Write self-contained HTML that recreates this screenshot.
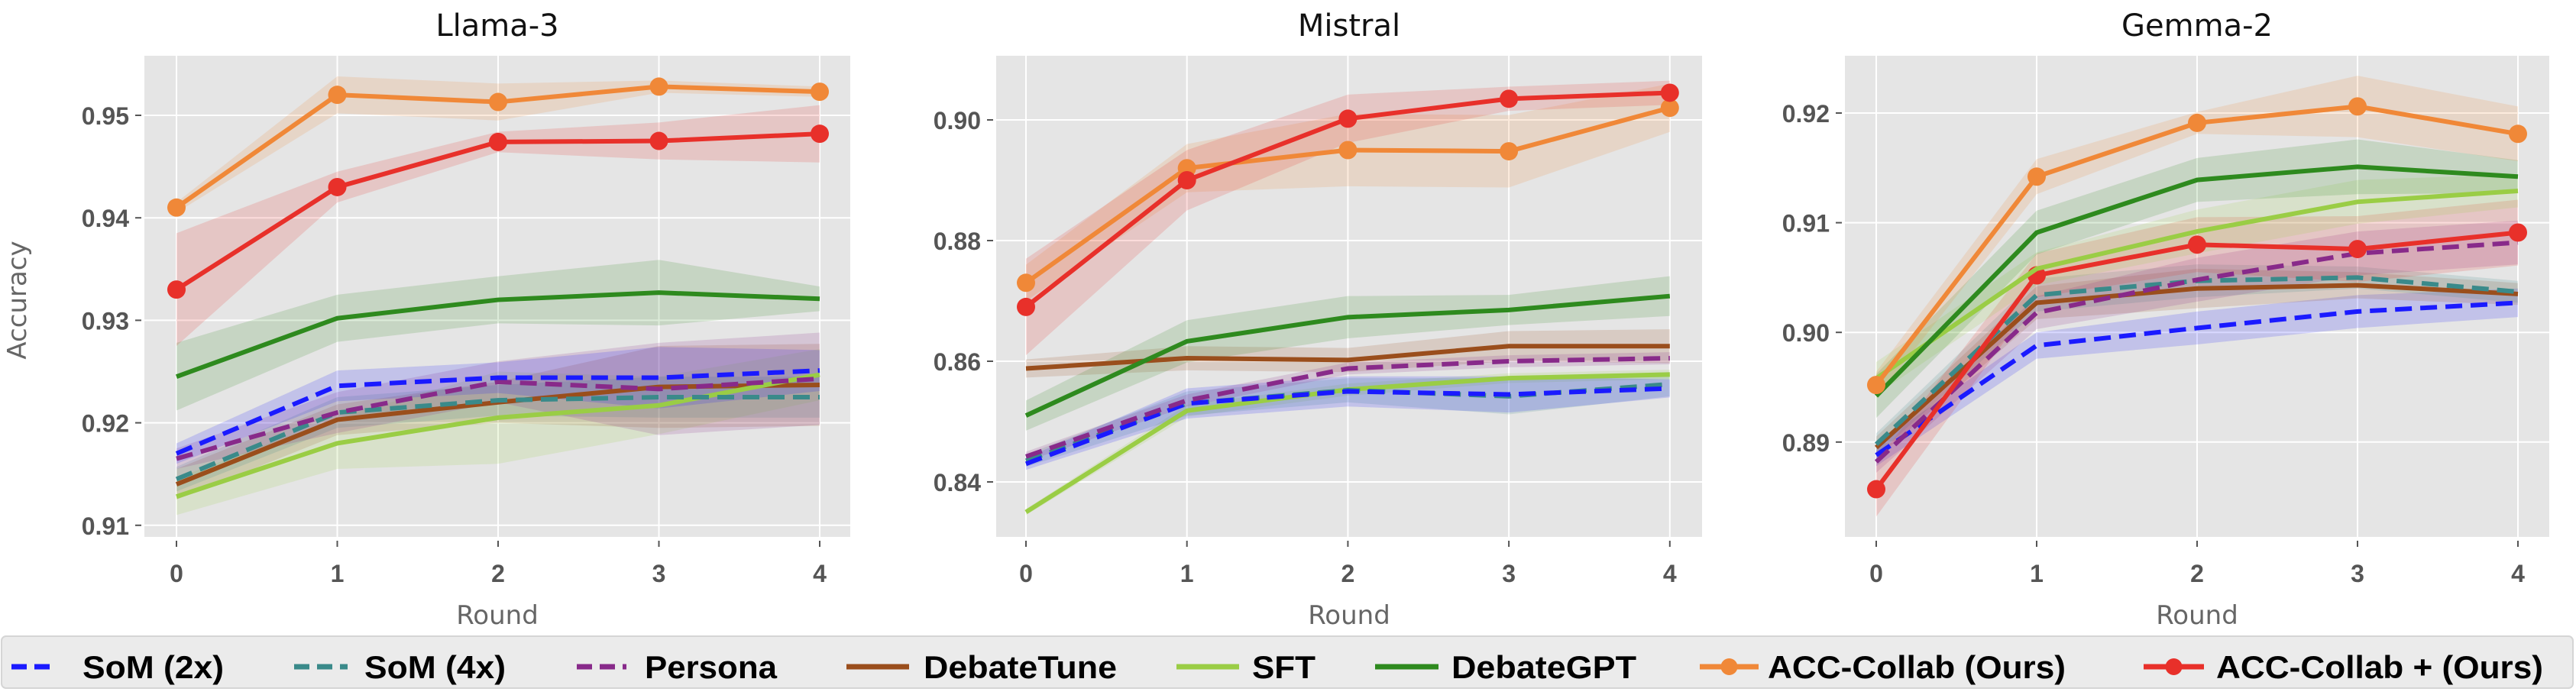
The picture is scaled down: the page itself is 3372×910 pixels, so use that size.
<!DOCTYPE html>
<html><head><meta charset="utf-8"><style>
body{margin:0;background:#fff;width:3372px;height:910px;overflow:hidden}
svg{display:block}
</style></head><body>
<svg id="s" width="3372" height="910" xmlns="http://www.w3.org/2000/svg" font-family="Liberation Sans, DejaVu Sans, sans-serif"></svg>
<script>
const S=document.getElementById('s');let h='';
const C={s2:'#1a1aff',s4:'#3a8a8a',pe:'#882a8a',dt:'#9a4e1c',sf:'#9acd45',dg:'#2e8a1e',ac:'#f08838',ap:'#e8302a'};
const panels=[
{t:'Llama-3',px0:189,px1:1113,x0:231,dx:210.5,yr:151,vr:0.95,k:13420,ticks:[0.91,0.92,0.93,0.94,0.95],
d:{dt:[[0.914,0.9203,0.922,0.9235,0.9237],[0.0015,0.0015,0.002,0.004,0.004]],
sf:[[0.9128,0.918,0.9205,0.9217,0.9247],[0.0018,0.0025,0.0045,0.0028,0.0025]],
s4:[[0.9145,0.921,0.9222,0.9225,0.9225],[0.0012,0.0015,0.0015,0.002,0.002]],
pe:[[0.9165,0.921,0.924,0.9233,0.9243],[0.001,0.002,0.002,0.0045,0.0045]],
s2:[[0.917,0.9236,0.9244,0.9244,0.9251],[0.001,0.0015,0.0015,0.003,0.002]],
dg:[[0.9245,0.9302,0.932,0.9327,0.9321],[0.0033,0.0023,0.0023,0.0032,0.0012]],
ap:[[0.933,0.943,0.9474,0.9475,0.9482],[0.0055,0.0015,0.001,0.0018,0.0028]],
ac:[[0.941,0.952,0.9513,0.9528,0.9523],[0.0005,0.0018,0.0018,0.0006,0.0005]]}},
{t:'Mistral',px0:1304,px1:2228,x0:1343,dx:210.7,yr:157,vr:0.90,k:7900,ticks:[0.84,0.86,0.88,0.90],
d:{dt:[[0.8588,0.8605,0.8602,0.8625,0.8625],[0.0015,0.002,0.002,0.0025,0.0028]],
sf:[[0.835,0.8518,0.8553,0.8572,0.8578],[0.0005,0.001,0.001,0.0008,0.0008]],
s4:[[0.8435,0.853,0.8552,0.8542,0.8562],[0.001,0.002,0.002,0.003,0.002]],
s2:[[0.843,0.853,0.855,0.8545,0.8555],[0.001,0.0025,0.0025,0.003,0.0015]],
pe:[[0.8442,0.8535,0.8588,0.860,0.8605],[0.0008,0.001,0.001,0.001,0.001]],
dg:[[0.851,0.8633,0.8673,0.8685,0.8708],[0.0025,0.0035,0.0035,0.0025,0.0033]],
ac:[[0.873,0.892,0.895,0.8948,0.902],[0.003,0.004,0.006,0.006,0.004]],
ap:[[0.869,0.890,0.9002,0.9035,0.9045],[0.008,0.005,0.004,0.002,0.002]]}},
{t:'Gemma-2',px0:2415,px1:3337,x0:2456,dx:210,yr:148,vr:0.92,k:14360,ticks:[0.89,0.90,0.91,0.92],
d:{s2:[[0.8888,0.8988,0.9004,0.9019,0.9027],[0.001,0.0012,0.0015,0.0015,0.0013]],
dt:[[0.8895,0.9027,0.904,0.9043,0.9035],[0.001,0.0015,0.0018,0.0012,0.001]],
s4:[[0.8898,0.9034,0.9047,0.905,0.9037],[0.001,0.0015,0.0015,0.001,0.001]],
pe:[[0.8882,0.9018,0.9048,0.9072,0.9082],[0.001,0.0015,0.002,0.002,0.002]],
ap:[[0.8857,0.9052,0.908,0.9076,0.9091],[0.0025,0.002,0.0025,0.003,0.003]],
sf:[[0.8958,0.9058,0.9092,0.9119,0.9129],[0.0015,0.0015,0.002,0.002,0.0015]],
dg:[[0.8942,0.9091,0.9139,0.9151,0.9142],[0.002,0.002,0.002,0.0025,0.0015]],
ac:[[0.8952,0.9142,0.9191,0.9206,0.9181],[0.0012,0.0016,0.001,0.0028,0.0025]]}}];
const dash={s2:1,s4:1,pe:1},mark={ac:1,ap:1};
panels.forEach(p=>{
 const X=i=>p.x0+i*p.dx,Y=v=>p.yr+(p.vr-v)*p.k;
 h+=`<rect x="${p.px0}" y="73" width="${p.px1-p.px0}" height="630" fill="#e5e5e5"/>`;
 h+=`<clipPath id="c${p.t}"><rect x="${p.px0}" y="73" width="${p.px1-p.px0}" height="630"/></clipPath>`;
 for(let i=0;i<5;i++){h+=`<line x1="${X(i)}" x2="${X(i)}" y1="73" y2="703" stroke="#fff" stroke-width="2"/><line x1="${X(i)}" x2="${X(i)}" y1="708" y2="716" stroke="#555" stroke-width="2"/><text x="${X(i)}" y="762" font-size="32" font-weight="bold" fill="#555" text-anchor="middle">${i}</text>`;}
 p.ticks.forEach(v=>{const y=Y(v);h+=`<line x1="${p.px0}" x2="${p.px1}" y1="${y}" y2="${y}" stroke="#fff" stroke-width="2"/><line x1="${p.px0-12}" x2="${p.px0-4}" y1="${y}" y2="${y}" stroke="#555" stroke-width="2"/><text x="${p.px0-20}" y="${y+12}" font-size="32" font-weight="bold" fill="#555" text-anchor="end">${v.toFixed(2)}</text>`;});
 h+=`<g clip-path="url(#c${p.t})">`;
 for(const k in p.d){const [m,e]=p.d[k];let up=m.map((v,i)=>X(i)+','+Y(v+e[i])),dn=m.map((v,i)=>X(i)+','+Y(v-e[i])).reverse();h+=`<polygon points="${up.concat(dn).join(' ')}" fill="${C[k]}" fill-opacity="0.17"/>`;}
 for(const k in p.d){const m=p.d[k][0];h+=`<polyline points="${m.map((v,i)=>X(i)+','+Y(v)).join(' ')}" fill="none" stroke="${C[k]}" stroke-width="6" ${dash[k]?'stroke-dasharray="22,11"':''}/>`;
  if(mark[k])m.forEach((v,i)=>h+=`<circle cx="${X(i)}" cy="${Y(v)}" r="12" fill="${C[k]}"/>`);}
 h+=`</g>`;
 h+=`<text x="${(p.px0+p.px1)/2}" y="47" font-size="40" fill="#111" text-anchor="middle" font-family="DejaVu Sans, sans-serif">${p.t}</text>`;
 h+=`<text x="${(p.px0+p.px1)/2}" y="817" font-size="34" fill="#666" text-anchor="middle" font-family="DejaVu Sans, sans-serif">Round</text>`;
});
h+=`<text transform="translate(34,393) rotate(-90)" font-size="34" fill="#666" text-anchor="middle" font-family="DejaVu Sans, sans-serif">Accuracy</text>`;
h+=`<rect x="2" y="833" width="3366" height="68" rx="6" fill="#ebebeb" stroke="#d5d5d5" stroke-width="2"/>`;
const L=[['s2','SoM (2x)',15,65,108,293],['s4','SoM (4x)',385,455,477,662],['pe','Persona',755,820,844,1017],['dt','DebateTune',1108,1190,1209,1462],['sf','SFT',1540,1622,1639,1722],['dg','DebateGPT',1800,1883,1900,2142],['ac','ACC-Collab (Ours)',2225,2302,2314,2704],['ap','ACC-Collab + (Ours)',2806,2885,2901,3329]];
L.forEach(([k,t,a,b,tx,te])=>{h+=`<line x1="${a}" x2="${b}" y1="873" y2="873" stroke="${C[k]}" stroke-width="7" ${dash[k]?'stroke-dasharray="20,10"':''}/>`;
 if(mark[k])h+=`<circle cx="${(a+b)/2}" cy="873" r="11" fill="${C[k]}"/>`;
 h+=`<text x="${tx}" y="888" font-size="42" font-weight="bold" fill="#000" textLength="${te-tx}" lengthAdjust="spacingAndGlyphs">${t}</text>`;});
S.innerHTML=h;
</script>
</body></html>
